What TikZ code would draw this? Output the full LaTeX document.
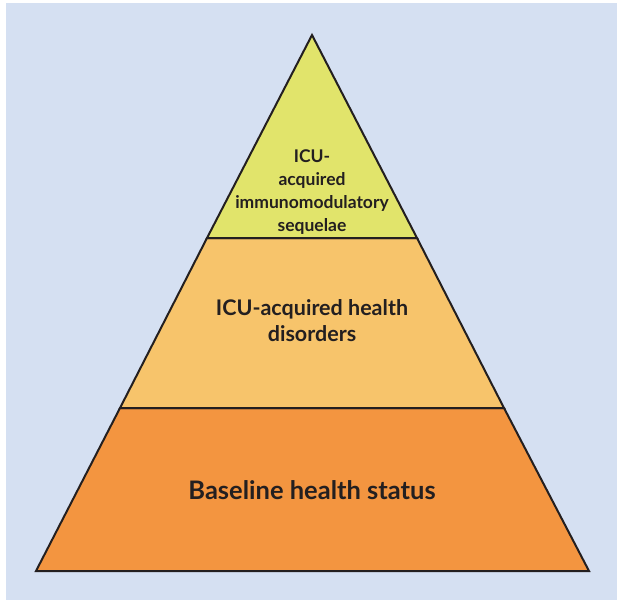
\documentclass[tikz,border=0pt]{standalone}
\usepackage{fontspec}
\setmainfont{Lato}
\definecolor{bgblue}{HTML}{D5E0F2}
\definecolor{tipyellow}{HTML}{E1E46B}
\definecolor{midorange}{HTML}{F7C46B}
\definecolor{baseorange}{HTML}{F39540}
\definecolor{txt}{HTML}{231F20}
\begin{document}
\begin{tikzpicture}[x=1pt,y=-1pt,
  layer/.style={draw=txt,line width=2pt,line join=miter},
  lbl/.style={text=txt,font=\bfseries,align=center,inner sep=0pt}]
\useasboundingbox (0,0) rectangle (617,600);
\fill[bgblue] (6,3) rectangle (617,600);
\coordinate (apex) at (312,35);
\coordinate (bl) at (36,571);
\coordinate (br) at (589,571);
\coordinate (l1) at (207,238);
\coordinate (r1) at (417,238);
\coordinate (l2) at (120,408);
\coordinate (r2) at (504,408);
\filldraw[layer,fill=baseorange] (l2) -- (r2) -- (br) -- (bl) -- cycle;
\filldraw[layer,fill=midorange] (l1) -- (r1) -- (r2) -- (l2) -- cycle;
\filldraw[layer,fill=tipyellow] (apex) -- (r1) -- (l1) -- cycle;
\node[lbl,font=\bfseries\fontsize{17.5}{23}\selectfont] (top) at (312,192) {ICU-\\acquired\\immunomodulatory\\sequelae};
\node[lbl,font=\bfseries\fontsize{21.5}{26}\selectfont] (mid) at (312,321) {ICU-acquired health\\disorders};
\node[lbl,font=\bfseries\fontsize{25.5}{30}\selectfont] (base) at (312,490) {Baseline health status};
\end{tikzpicture}
\end{document}
